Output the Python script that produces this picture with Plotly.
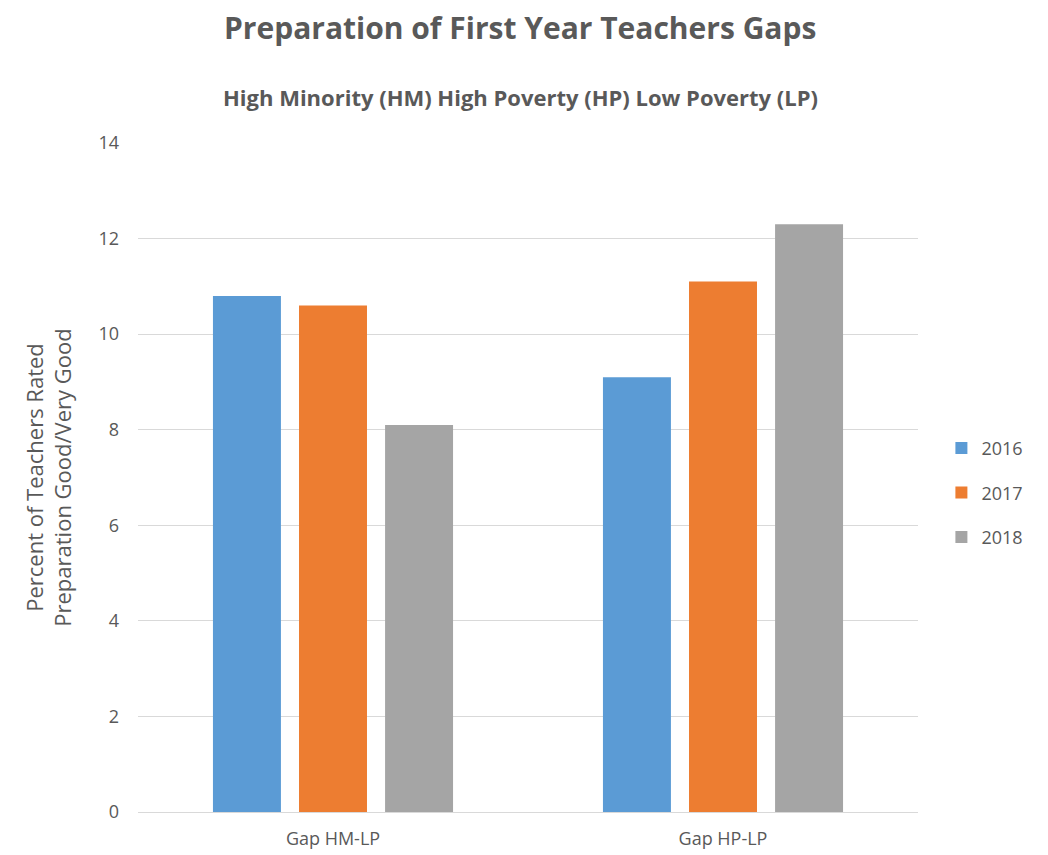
import plotly.graph_objects as go

categories = ['Gap HM-LP', 'Gap HP-LP']
years = ['2016', '2017', '2018']
values_2016 = [10.8, 9.1]
values_2017 = [10.6, 11.1]
values_2018 = [8.1, 12.3]
colors = ['#5B9BD5', '#ED7D31', '#A5A5A5']

font_family = 'Open Sans, Liberation Sans, sans-serif'
text_color = '#595959'

fig = go.Figure()
for year, vals, col in zip(years, [values_2016, values_2017, values_2018], colors):
    fig.add_trace(go.Bar(x=categories, y=vals, name=year, marker_color=col,
                         marker_line_width=0, legendgroup=year))

# page body adds an 8px offset, margins compensate for it
m_l, m_r, m_t, m_b = 130, 138, 135, 51
plot_w = 1048 - m_l - m_r
plot_h = 855 - m_t - m_b
title_x = (520 - 8 - m_l) / plot_w

fig.update_layout(
    width=1048, height=855,
    barmode='group', bargap=0.338, bargroupgap=0.21,
    plot_bgcolor='white', paper_bgcolor='white',
    font=dict(family=font_family, color=text_color, size=16),
    margin=dict(l=m_l, r=m_r, t=m_t, b=m_b),
    showlegend=True,
    legend=dict(x=1.03, y=0.477, xanchor='left', yanchor='middle',
                font=dict(size=18, color=text_color), tracegroupgap=18),
    annotations=[
        dict(text='<b>Preparation of First Year Teachers Gaps</b>', x=title_x,
             y=1 + (m_t + 8 - 27) / plot_h,
             xref='paper', yref='paper', yanchor='middle', showarrow=False,
             font=dict(size=30, color=text_color)),
        dict(text='<b>High Minority (HM) High Poverty (HP) Low Poverty (LP)</b>', x=title_x,
             y=1 + (m_t + 8 - 97) / plot_h,
             xref='paper', yref='paper', yanchor='middle', showarrow=False,
             font=dict(size=22, color=text_color)),
    ],
)

fig.update_yaxes(range=[0, 14], dtick=2, showgrid=True, gridcolor='#D9D9D9', gridwidth=1,
                 zeroline=False, showline=False, tickfont=dict(size=18),
                 ticks='', ticklabelstandoff=18,
                 title=dict(text='Percent of Teachers Rated<br>Preparation Good/Very Good',
                            font=dict(size=22, color=text_color), standoff=20))
fig.update_xaxes(showline=True, linecolor='#D9D9D9', linewidth=1, tickfont=dict(size=18),
                 ticks='', ticklabelstandoff=10)

fig.write_html('out.html')
